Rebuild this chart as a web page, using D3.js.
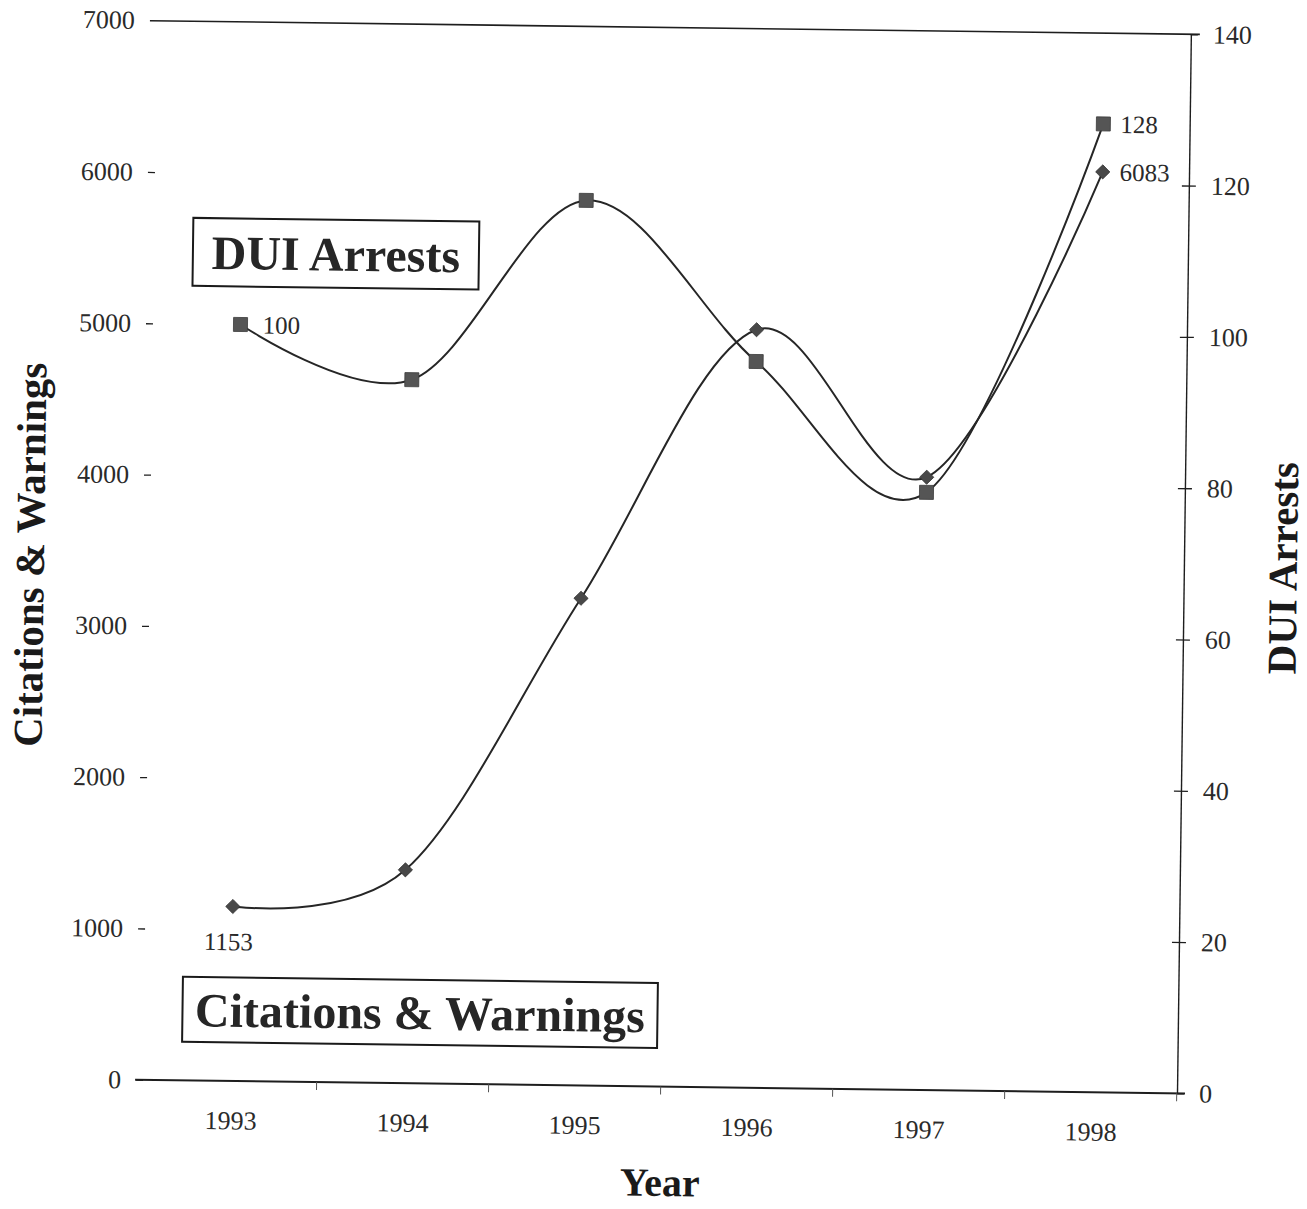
<!DOCTYPE html>
<html>
<head>
<meta charset="utf-8">
<script src="https://cdn.jsdelivr.net/npm/d3@7/dist/d3.min.js"></script>
<style>
  html, body { margin: 0; padding: 0; background: #fff; }
  svg { display: block; }
  text { font-family: "Liberation Serif", "Times New Roman", serif; }
</style>
</head>
<body>
<svg id="chart" width="1307" height="1209"></svg>
<script>
// Yearly enforcement counts
const years = ["1993", "1994", "1995", "1996", "1997", "1998"];
const citations = [1153, 1410, 3220, 5010, 4050, 6083];   // left axis
const duiArrests = [100, 93, 117, 96, 79, 128];           // right axis
const leftTicks = [0, 1000, 2000, 3000, 4000, 5000, 6000, 7000];
const rightTicks = [0, 20, 40, 60, 80, 100, 120, 140];

const svg = d3.select("#chart");
const g = svg.append("g").attr("transform", "rotate(0.75, 660, 555)");

const plot = { left: 143, right: 1184, top: 27.4, bottom: 1086.5 };

const x = d3.scalePoint().domain(years).range([151.5, 1183.7]).padding(0.5);
const step = x.step();
const yL = d3.scaleLinear().domain([0, 7000]).range([plot.bottom, plot.top]);
const yR = d3.scaleLinear().domain([0, 140]).range([plot.bottom, plot.top]);

const ink = "#1e1e1e";
const tickFont = 26;

// top frame line
g.append("line")
  .attr("x1", plot.left).attr("x2", plot.right + 9)
  .attr("y1", plot.top).attr("y2", plot.top)
  .attr("stroke", ink).attr("stroke-width", 1.6);

// left value axis: short inner ticks, no spine
const axL = g.append("g").attr("transform", `translate(${plot.left},0)`)
  .call(d3.axisLeft(yL).tickValues(leftTicks.filter(d => d < 7000))
    .tickSizeInner(-7).tickSizeOuter(0).tickPadding(15).tickFormat(d3.format("d")));
axL.select(".domain").remove();
axL.selectAll(".tick line").attr("stroke", ink).attr("stroke-width", 1.3);
axL.selectAll(".tick text").attr("font-size", tickFont).attr("fill", "#2a2a2a");
// label for the top value sits on the frame line
g.append("text").attr("x", plot.left - 15).attr("y", yL(7000)).attr("dy", "0.32em")
  .attr("text-anchor", "end").attr("font-size", tickFont).attr("fill", "#2a2a2a")
  .text(d3.format("d")(7000));

// right value axis: spine with crossing ticks
const axR = g.append("g").attr("transform", `translate(${plot.right},0)`)
  .call(d3.axisRight(yR).tickValues(rightTicks)
    .tickSizeInner(7).tickSizeOuter(0).tickPadding(15));
axR.select(".domain").attr("stroke", ink).attr("stroke-width", 1.4);
axR.selectAll(".tick line").attr("x1", d => (d === 0 || d === 140) ? 0 : -7)
  .attr("stroke", ink).attr("stroke-width", 1.3);
axR.selectAll(".tick text").attr("font-size", tickFont).attr("fill", "#2a2a2a");

// category axis
const axB = g.append("g").attr("transform", `translate(0,${plot.bottom})`)
  .call(d3.axisBottom(x).tickSize(0).tickPadding(30));
axB.select(".domain").remove();
axB.selectAll(".tick text").attr("font-size", tickFont).attr("fill", "#2a2a2a");
g.append("line")
  .attr("x1", plot.left - 1).attr("x2", plot.right + 8)
  .attr("y1", plot.bottom).attr("y2", plot.bottom)
  .attr("stroke", ink).attr("stroke-width", 2);
g.append("g").selectAll("line")
  .data(years)
  .join("line")
  .attr("x1", d => x(d) + step / 2).attr("x2", d => x(d) + step / 2)
  .attr("y1", plot.bottom).attr("y2", plot.bottom + 8)
  .attr("stroke", "#555").attr("stroke-width", 1);

// smoothed series lines
const lineL = d3.line().x((d, i) => x(years[i])).y(d => yL(d)).curve(d3.curveCatmullRom.alpha(0));
const lineR = d3.line().x((d, i) => x(years[i])).y(d => yR(d)).curve(d3.curveCatmullRom.alpha(0));

g.append("path").datum(citations).attr("d", lineL)
  .attr("fill", "none").attr("stroke", "#262626").attr("stroke-width", 2);
g.append("path").datum(duiArrests).attr("d", lineR)
  .attr("fill", "none").attr("stroke", "#262626").attr("stroke-width", 2);

// markers
const diamond = d3.symbol().type(d3.symbolSquare).size(100);
g.append("g").selectAll("path")
  .data(citations)
  .join("path")
  .attr("d", diamond)
  .attr("transform", (d, i) => `translate(${x(years[i])},${yL(d)}) rotate(45)`)
  .attr("fill", "#484848").attr("stroke", "#333").attr("stroke-width", 0.8);

g.append("g").selectAll("rect")
  .data(duiArrests)
  .join("rect")
  .attr("x", (d, i) => x(years[i]) - 7).attr("y", d => yR(d) - 7)
  .attr("width", 14).attr("height", 14)
  .attr("fill", "#555").attr("stroke", "#3a3a3a").attr("stroke-width", 0.8);

// value labels at the series ends
function label(txt, px, py, anchor) {
  g.append("text").attr("x", px).attr("y", py).attr("dy", "0.35em")
    .attr("text-anchor", anchor).attr("font-size", 25).attr("fill", "#2a2a2a")
    .text(txt);
}
label(duiArrests[0], x(years[0]) + 22, yR(duiArrests[0]), "start");
label(duiArrests[5], x(years[5]) + 17, yR(duiArrests[5]), "start");
label(citations[5], x(years[5]) + 17, yL(citations[5]), "start");
label(citations[0], x(years[0]) - 4, yL(citations[0]) + 35, "middle");

// boxed series names
function boxed(txt, bx, by, bw, bh) {
  g.append("rect").attr("x", bx).attr("y", by).attr("width", bw).attr("height", bh)
    .attr("fill", "#fff").attr("stroke", "#1a1a1a").attr("stroke-width", 2);
  g.append("text").attr("x", bx + bw / 2).attr("y", by + bh / 2).attr("dy", "0.35em")
    .attr("text-anchor", "middle").attr("font-size", 48).attr("font-weight", "bold")
    .attr("fill", "#262626").text(txt);
}
boxed("DUI Arrests", 189, 224, 286, 68);
boxed("Citations & Warnings", 188.5, 983, 475, 65);

// axis titles
g.append("text").attr("transform", "translate(44,563) rotate(-90)")
  .attr("text-anchor", "middle").attr("font-size", 41).attr("font-weight", "bold")
  .attr("fill", "#1a1a1a").text("Citations & Warnings");
g.append("text").attr("transform", "translate(1297,560) rotate(-90)")
  .attr("text-anchor", "middle").attr("font-size", 41).attr("font-weight", "bold")
  .attr("fill", "#1a1a1a").text("DUI Arrests");
g.append("text").attr("x", 668).attr("y", 1196)
  .attr("text-anchor", "middle").attr("font-size", 40).attr("font-weight", "bold")
  .attr("fill", "#1a1a1a").text("Year");
</script>
</body>
</html>
